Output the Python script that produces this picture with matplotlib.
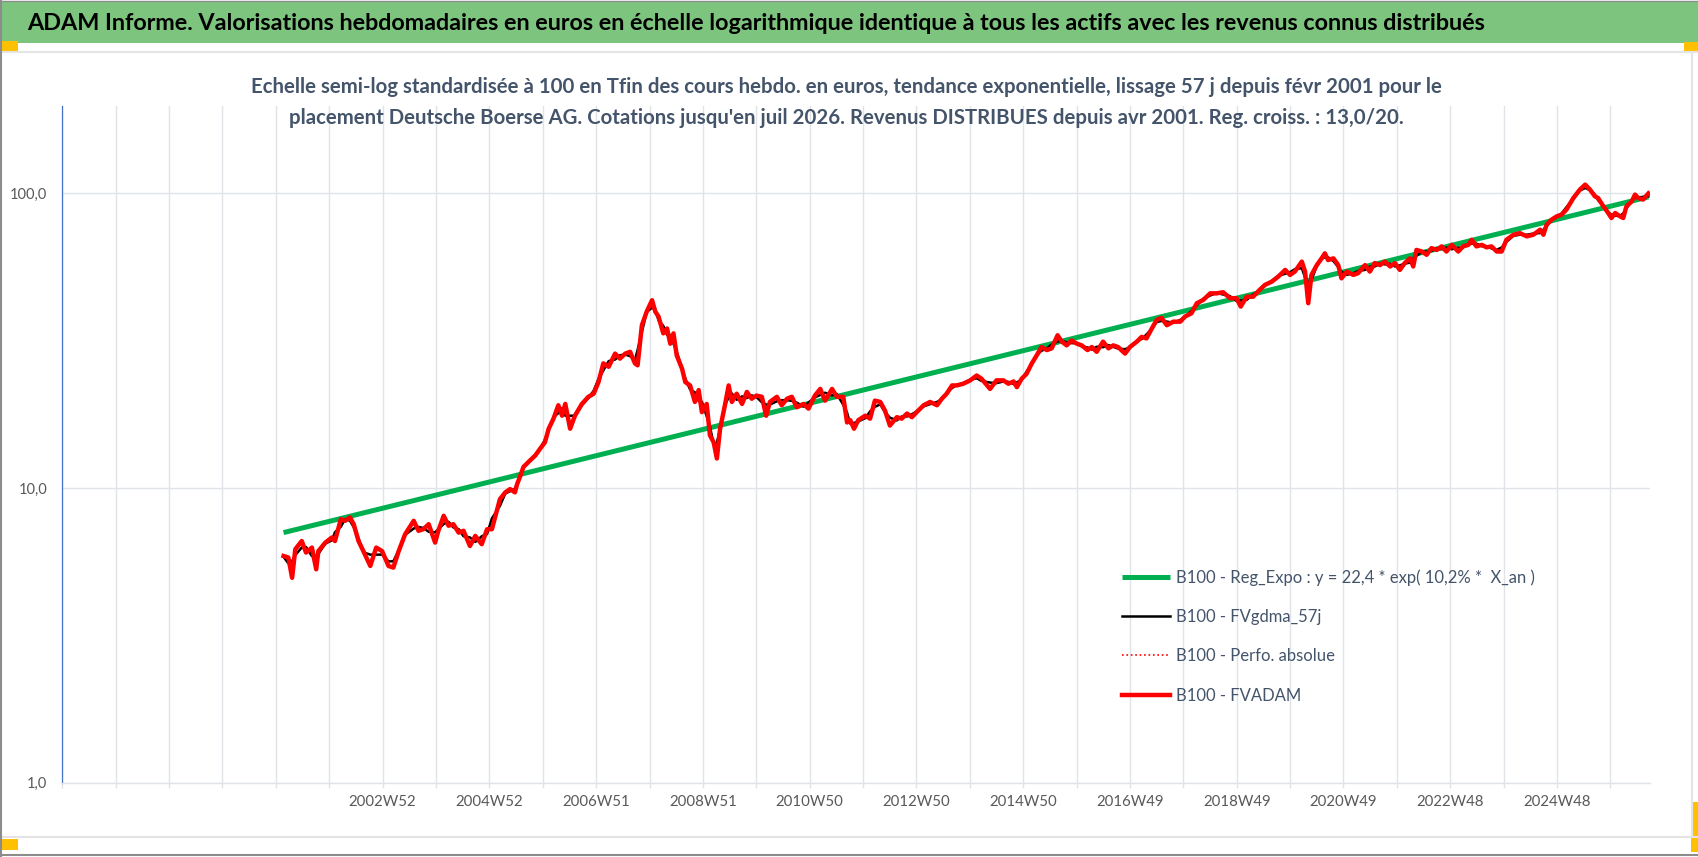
import numpy as np
import pandas as pd
import matplotlib
matplotlib.use("Agg")
import matplotlib.pyplot as plt
from matplotlib.patches import Rectangle
from matplotlib.lines import Line2D

plt.rcParams['font.family'] = ['Lato', 'DejaVu Sans']

# --- data (decimal year, base 100 at the end) ---
fvadam_dates = [
    2001.13, 2001.22, 2001.29, 2001.35, 2001.47, 2001.55, 2001.66, 2001.74, 2001.78, 2001.91,
    2002.03, 2002.09, 2002.20, 2002.28, 2002.37, 2002.44, 2002.53, 2002.62, 2002.75, 2002.86,
    2002.97, 2003.09, 2003.18, 2003.28, 2003.40, 2003.56, 2003.65, 2003.74, 2003.84, 2003.96,
    2004.02, 2004.12, 2004.21, 2004.30, 2004.40, 2004.49, 2004.61, 2004.71, 2004.83, 2004.93,
    2005.02, 2005.17, 2005.27, 2005.36, 2005.45, 2005.49, 2005.55, 2005.61, 2005.73, 2005.83,
    2005.92, 2006.01, 2006.08, 2006.17, 2006.26, 2006.33, 2006.39, 2006.48, 2006.57, 2006.70,
    2006.82, 2006.92, 2007.01, 2007.10, 2007.20, 2007.32, 2007.41, 2007.51, 2007.60, 2007.69,
    2007.74, 2007.82, 2007.91, 2008.01, 2008.07, 2008.13, 2008.22, 2008.29, 2008.35, 2008.41,
    2008.47, 2008.57, 2008.63, 2008.72, 2008.81, 2008.88, 2008.94, 2009.03, 2009.09, 2009.16,
    2009.22, 2009.28, 2009.37, 2009.44, 2009.50, 2009.59, 2009.69, 2009.78, 2009.87, 2009.96,
    2010.06, 2010.14, 2010.21, 2010.34, 2010.43, 2010.53, 2010.62, 2010.71, 2010.84, 2010.93,
    2011.05, 2011.15, 2011.24, 2011.37, 2011.46, 2011.58, 2011.65, 2011.71, 2011.78, 2011.86,
    2011.99, 2012.08, 2012.17, 2012.27, 2012.36, 2012.45, 2012.58, 2012.67, 2012.77, 2012.86,
    2012.95, 2013.08, 2013.20, 2013.33, 2013.42, 2013.51, 2013.61, 2013.70, 2013.82, 2013.95,
    2014.07, 2014.16, 2014.32, 2014.44, 2014.57, 2014.66, 2014.76, 2014.82, 2014.91, 2015.00,
    2015.10, 2015.19, 2015.28, 2015.38, 2015.47, 2015.58, 2015.66, 2015.75, 2015.84, 2015.94,
    2016.03, 2016.14, 2016.22, 2016.31, 2016.43, 2016.53, 2016.62, 2016.71, 2016.84, 2016.93,
    2017.06, 2017.15, 2017.24, 2017.34, 2017.43, 2017.52, 2017.62, 2017.74, 2017.87, 2017.96,
    2018.08, 2018.18, 2018.30, 2018.43, 2018.55, 2018.67, 2018.80, 2018.92, 2019.00, 2019.11,
    2019.23, 2019.35, 2019.45, 2019.58, 2019.70, 2019.83, 2019.92, 2020.01, 2020.14, 2020.20,
    2020.26, 2020.32, 2020.42, 2020.51, 2020.57, 2020.63, 2020.73, 2020.82, 2020.88, 2020.98,
    2021.10, 2021.19, 2021.32, 2021.41, 2021.50, 2021.60, 2021.69, 2021.79, 2021.88, 2021.97,
    2022.06, 2022.16, 2022.22, 2022.28, 2022.38, 2022.47, 2022.56, 2022.66, 2022.75, 2022.84,
    2022.94, 2023.06, 2023.15, 2023.25, 2023.31, 2023.40, 2023.50, 2023.59, 2023.68, 2023.78,
    2023.87, 2023.96, 2024.09, 2024.21, 2024.34, 2024.46, 2024.59, 2024.65, 2024.71, 2024.80,
    2024.90, 2024.99, 2025.08, 2025.21, 2025.33, 2025.43, 2025.52, 2025.61, 2025.67, 2025.77,
    2025.86, 2025.92, 2025.99, 2026.08, 2026.14, 2026.20, 2026.30, 2026.36, 2026.42, 2026.51,
    2026.61,
]
fvadam_values = [
    5.88, 5.81, 4.96, 6.20, 6.61, 6.04, 6.28, 5.30, 6.11, 6.53,
    6.79, 6.61, 7.84, 7.74, 7.95, 7.54, 6.61, 6.11, 5.44, 6.28,
    6.11, 5.44, 5.37, 6.11, 6.97, 7.74, 7.16, 7.25, 7.54, 6.53,
    7.16, 8.05, 7.45, 7.54, 7.06, 7.16, 6.36, 6.88, 6.45, 7.25,
    7.25, 9.17, 9.67, 9.92, 9.67, 10.3, 11.0, 11.8, 12.4, 12.9,
    13.6, 14.3, 15.9, 17.2, 19.1, 17.6, 19.3, 15.9, 17.6, 19.3,
    20.4, 20.9, 22.9, 26.5, 25.8, 28.6, 27.5, 28.6, 29.0, 26.5,
    26.1, 35.7, 39.7, 43.4, 39.7, 38.2, 33.5, 34.8, 30.9, 33.5,
    28.2, 25.4, 22.9, 22.3, 19.6, 21.5, 18.1, 19.3, 15.1, 14.3,
    12.6, 15.9, 19.1, 22.3, 19.6, 20.9, 19.3, 21.2, 20.1, 20.6,
    20.4, 17.6, 19.6, 20.4, 19.1, 20.1, 20.4, 18.8, 19.3, 18.6,
    20.6, 21.7, 19.8, 21.7, 20.4, 20.4, 16.7, 17.0, 15.9, 17.0,
    17.6, 17.2, 19.8, 19.6, 18.3, 16.3, 17.4, 17.2, 17.9, 17.4,
    18.1, 19.1, 19.6, 19.1, 20.1, 20.9, 22.3, 22.3, 22.6, 23.2,
    24.1, 23.5, 21.7, 23.2, 23.2, 22.6, 23.0, 22.0, 23.5, 24.4,
    26.5, 28.2, 30.1, 29.4, 29.8, 33.0, 31.4, 30.5, 31.7, 30.9,
    30.5, 29.4, 30.1, 29.0, 31.4, 29.8, 30.5, 30.1, 28.6, 30.1,
    31.4, 32.6, 32.2, 34.8, 37.2, 37.8, 35.7, 36.7, 36.7, 38.2,
    39.2, 42.4, 43.5, 45.8, 45.8, 46.2, 44.1, 44.1, 41.3, 44.6,
    44.6, 47.0, 48.9, 50.2, 52.2, 55.0, 52.9, 54.3, 58.7, 54.3,
    42.4, 52.9, 57.1, 60.2, 62.6, 59.4, 60.2, 57.1, 51.5, 54.3,
    52.9, 53.6, 57.1, 54.3, 58.0, 57.1, 58.7, 56.5, 58.0, 55.0,
    58.0, 60.2, 56.5, 64.3, 63.5, 61.9, 65.2, 64.3, 66.1, 63.5,
    66.9, 63.5, 66.1, 66.9, 69.6, 66.1, 66.9, 65.6, 66.1, 63.5,
    63.5, 69.6, 72.4, 73.3, 71.5, 72.4, 75.3, 72.4, 78.3, 81.4,
    83.6, 84.7, 88.1, 96.5, 103.0, 107.1, 103.0, 97.8, 96.5, 90.4,
    85.8, 82.5, 85.8, 83.6, 82.5, 90.4, 94.0, 99.1, 96.5, 95.3,
    100.0,
]

# exponential trend: straight line on the log axis, read at both ends
reg_dates = [2001.13, 2026.61]
reg_values = [7.06, 97.3]

# category axis: one gridline every 52 weeks starting first week of 1997
grid_count = 30
week_year = 364 / 365.25
x_start = 1997.0
x_end = 2026.64
tick_labels = {6: "2002W52", 8: "2004W52", 10: "2006W51", 12: "2008W51",
               14: "2010W50", 16: "2012W50", 18: "2014W50", 20: "2016W49",
               22: "2018W49", 24: "2020W49", 26: "2022W48", 28: "2024W48"}
y_ticks = [1, 10, 100]
y_labels = ["1,0", "10,0", "100,0"]

legend_labels = ["B100 - Reg_Expo : y = 22,4 * exp( 10,2% *  X_an )",
                 "B100 - FVgdma_57j",
                 "B100 - Perfo. absolue",
                 "B100 - FVADAM"]

title = ("ADAM Informe. Valorisations hebdomadaires en euros en échelle logarithmique "
         "identique à tous les actifs avec les revenus connus distribués")
subtitle_1 = ("Echelle semi-log standardisée à 100 en Tfin des cours hebdo. en euros, tendance "
              "exponentielle, lissage 57 j depuis févr 2001 pour le")
subtitle_2 = ("placement Deutsche Boerse AG. Cotations jusqu'en juil 2026. Revenus DISTRIBUES "
              "depuis avr 2001. Reg. croiss. : 13,0/20.")

W, H = 1698, 857
fig = plt.figure(figsize=(W / 100, H / 100), dpi=100)
fig.patch.set_facecolor("white")

# frame decorations in pixel coordinates
bg = fig.add_axes([0, 0, 1, 1], zorder=-5)
bg.set_xlim(0, W)
bg.set_ylim(H, 0)
bg.axis("off")
bg.add_patch(Rectangle((0, 2), W, 41, color="#7dc47f", lw=0))
bg.add_patch(Rectangle((0, 41), 18, 10, color="#ffc000", lw=0))
bg.add_patch(Rectangle((1684, 42), 14, 9, color="#ffc000", lw=0))
bg.add_patch(Rectangle((0, 839), 18, 11, color="#ffc000", lw=0))
bg.add_patch(Rectangle((1691, 802), 7, 50, color="#ffc000", lw=0))
bg.add_line(Line2D([0, W], [52, 52], color="#e4e4e4", lw=1.5))
bg.add_line(Line2D([0, W], [837, 837], color="#e4e4e4", lw=1.5))
bg.add_line(Line2D([0, W], [855, 855], color="#8c8c8c", lw=1.5))
bg.add_line(Line2D([0.7, 0.7], [0, H], color="#8c8c8c", lw=1.5))
bg.add_line(Line2D([1692, 1692], [52, 837], color="#e4e4e4", lw=1.5))
bg.add_line(Line2D([0, W], [0.5, 0.5], color="#8c8c8c", lw=1.0))

ax = fig.add_axes([62.3 / W, 1 - 782.7 / H, (1650 - 62.3) / W, (782.7 - 106) / H])
ax.patch.set_alpha(0)

grid_color = "#e0e3e8"
ax.plot(reg_dates, reg_values, color="#00b050", lw=3.6, solid_capstyle="butt",
        label=legend_labels[0], zorder=3)
smooth = pd.Series(fvadam_values).rolling(3, center=True, min_periods=1).mean()
ax.plot(fvadam_dates, smooth, color="black", lw=1.8, label=legend_labels[1], zorder=4)
ax.plot(fvadam_dates, fvadam_values, color="red", lw=1.2, ls=":", label=legend_labels[2], zorder=4)
ax.plot(fvadam_dates, fvadam_values, color="red", lw=3.2, label=legend_labels[3], zorder=5)

ax.set_yscale("log")
ax.set_ylim(1, 198)
ax.set_xlim(x_start, x_end)
ax.set_yticks(y_ticks)
ax.set_yticklabels(y_labels)
ax.yaxis.set_minor_locator(matplotlib.ticker.NullLocator())
ax.tick_params(axis="y", length=0, pad=11, labelsize=10.5, labelcolor="#595959")

grid_pos = [x_start + k * week_year for k in range(grid_count)]
ax.set_xticks(grid_pos)
ax.set_xticklabels([tick_labels.get(k, "") for k in range(grid_count)])
ax.tick_params(axis="x", length=3.6, width=1.0, color=grid_color, pad=5,
               labelsize=10.8, labelcolor="#595959")
ax.grid(True, axis="both", color=grid_color, lw=1.0, zorder=0)
ax.set_axisbelow(True)

for side in ["top", "right"]:
    ax.spines[side].set_visible(False)
ax.spines["left"].set_color("#4472c4")
ax.spines["left"].set_linewidth(0.9)
ax.spines["bottom"].set_color(grid_color)
ax.spines["bottom"].set_linewidth(1.0)

leg = ax.legend(loc="upper left", bbox_to_anchor=(1121.7 / W, 1 - 569 / H),
                bbox_transform=fig.transFigure, frameon=False, fontsize=12,
                handlelength=2.9, handletextpad=0.35, labelspacing=1.4,
                borderpad=0, borderaxespad=0)
for txt in leg.get_texts():
    txt.set_color("#44546a")

# titles, scaled so that their widths match the picture
t1 = fig.text(27 / W, 1 - 23 / H, title, fontsize=18, fontweight="bold",
              color="black", ha="left", va="center")
s1 = fig.text(846 / W, 1 - 87 / H, subtitle_1, fontsize=13, fontweight="bold",
              color="#44546a", ha="center", va="center")
s2 = fig.text(846 / W, 1 - 118 / H, subtitle_2, fontsize=13, fontweight="bold",
              color="#44546a", ha="center", va="center")

renderer = fig.canvas.get_renderer()


def fit_width(txt, target_px):
    width = txt.get_window_extent(renderer=renderer).width
    txt.set_fontsize(txt.get_fontsize() * target_px / width)
    return txt.get_fontsize()


fit_width(t1, 1468)
size = fit_width(s1, 1188)
s2.set_fontsize(size)

fig.savefig("out.png", dpi=100)
